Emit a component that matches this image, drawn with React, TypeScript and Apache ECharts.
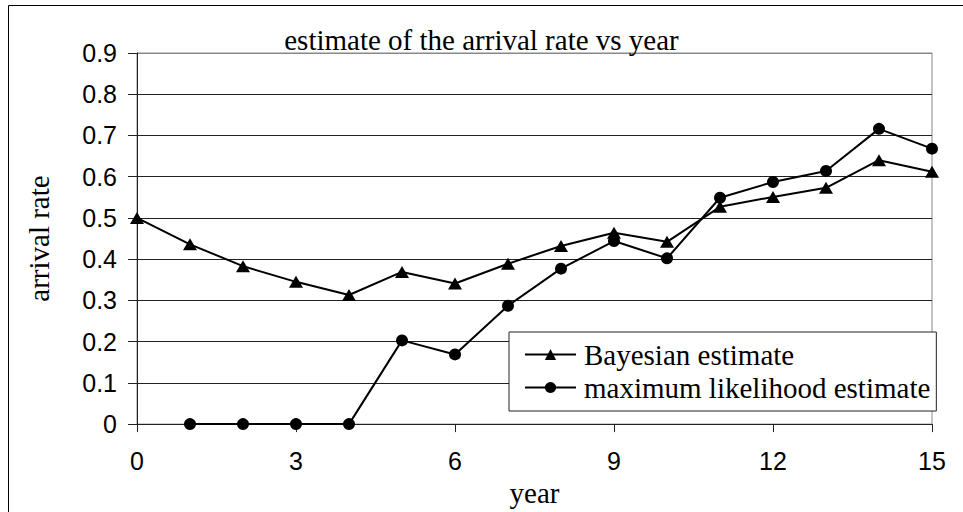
import React, { useEffect, useRef } from "react";
import * as echarts from "echarts";

const years = [0, 1, 2, 3, 4, 5, 6, 7, 8, 9, 10, 11, 12, 13, 14, 15];
const bayesian = [0.5, 0.436, 0.383, 0.345, 0.313, 0.369, 0.341, 0.389, 0.432, 0.464, 0.442, 0.527, 0.551, 0.573, 0.64, 0.612];
const mle = [null, 0, 0, 0, 0, 0.203, 0.169, 0.287, 0.377, 0.444, 0.402, 0.549, 0.587, 0.614, 0.716, 0.668];
const seriesNames = ["Bayesian estimate", "maximum likelihood estimate"];
const titleText = "estimate of the arrival rate vs year";
const xName = "year";
const yName = "arrival rate";

export default function App() {
  const ref = useRef<HTMLDivElement>(null);
  useEffect(() => {
    document.body.style.margin = "0";
    const chart = echarts.init(ref.current!, null, { renderer: "svg" });
    const serif = "Liberation Serif";
    const sans = "Liberation Sans";
    const splitColors = ["#222", "#222", "#222", "#222", "#222", "#222", "#222", "#222", "#222", "#888"];
    chart.setOption({
      animation: false,
      backgroundColor: "#fff",
      title: {
        text: titleText,
        left: "center",
        top: 20,
        textStyle: { fontFamily: serif, fontSize: 29, fontWeight: "normal", color: "#000" },
      },
      grid: {
        left: 137,
        right: 31,
        top: 53,
        bottom: 80,
        show: true,
        borderColor: "#888",
        borderWidth: 1,
      },
      xAxis: {
        type: "value",
        min: 0,
        max: 15,
        interval: 3,
        name: xName,
        nameLocation: "middle",
        nameGap: 40,
        nameTextStyle: { fontFamily: serif, fontSize: 29, color: "#000" },
        axisLine: { show: true, lineStyle: { color: "#222", width: 1 } },
        axisTick: { show: true, length: 8, lineStyle: { color: "#222" } },
        axisLabel: { fontFamily: sans, fontSize: 25, color: "#000", margin: 24 },
        splitLine: { show: false },
      },
      yAxis: {
        type: "value",
        min: 0,
        max: 0.9,
        interval: 0.1,
        name: yName,
        nameLocation: "middle",
        nameGap: 84,
        nameTextStyle: { fontFamily: serif, fontSize: 29, color: "#000" },
        axisLine: { show: true, lineStyle: { color: "#222", width: 1 } },
        axisTick: { show: true, length: 9, lineStyle: { color: "#222" } },
        axisLabel: { fontFamily: sans, fontSize: 25, color: "#000", margin: 20 },
        splitLine: { show: true, lineStyle: { color: splitColors, width: 1 } },
      },
      legend: {
        left: 509,
        top: 332,
        orient: "vertical",
        backgroundColor: "#fff",
        borderColor: "#222",
        borderWidth: 1,
        borderRadius: 0,
        padding: [8, 6, 9, 15],
        itemGap: 4,
        itemWidth: 51,
        itemHeight: 14,
        textStyle: { fontFamily: serif, fontSize: 29, color: "#000", padding: [0, 0, 0, 3] },
        data: seriesNames,
      },
      series: [
        {
          name: seriesNames[0],
          type: "line",
          data: years.map((x, i) => [x, bayesian[i]]),
          symbol: "triangle",
          symbolSize: [14, 12],
          lineStyle: { color: "#000", width: 2 },
          itemStyle: { color: "#000" },
          clip: false,
        },
        {
          name: seriesNames[1],
          type: "line",
          data: years.map((x, i) => [x, mle[i]]),
          symbol: "circle",
          symbolSize: 12,
          lineStyle: { color: "#000", width: 2 },
          itemStyle: { color: "#000" },
          clip: false,
        },
      ],
      graphic: [
        {
          type: "rect",
          shape: { x: 8.5, y: 5.5, width: 1000, height: 600 },
          style: { fill: "none", stroke: "#000", lineWidth: 1 },
          silent: true,
        },
      ],
    });
    return () => chart.dispose();
  }, []);
  return <div ref={ref} style={{ width: 963, height: 512 }} />;
}
